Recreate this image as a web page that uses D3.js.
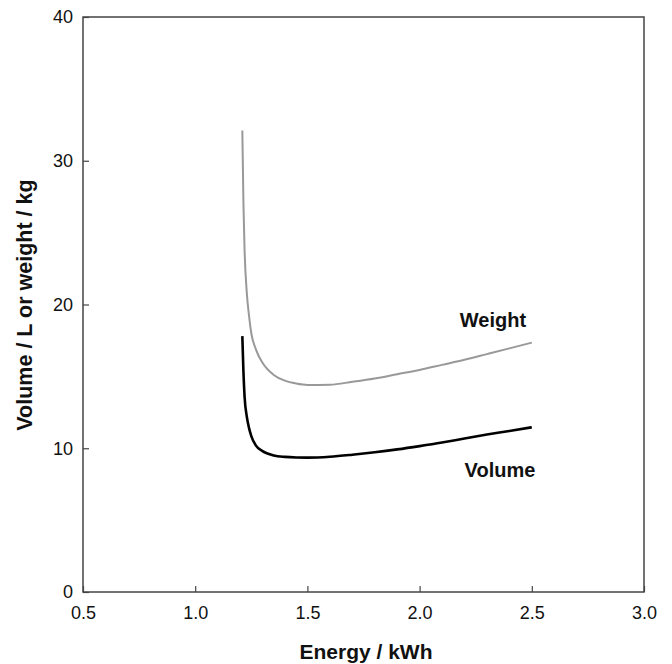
<!DOCTYPE html>
<html>
<head>
<meta charset="utf-8">
<script src="https://cdn.jsdelivr.net/npm/d3@7"></script>
<style>
  body { margin: 0; background: #fff; }
  svg { display: block; font-family: "Liberation Sans", Arial, sans-serif; }
</style>
</head>
<body>
<svg id="chart" width="672" height="664"></svg>
<script>
const energy = [1.21, 1.215, 1.22, 1.23, 1.24, 1.25, 1.27, 1.30, 1.35, 1.40, 1.45, 1.50, 1.60, 1.70, 1.80, 1.90, 2.00, 2.10, 2.20, 2.30, 2.40, 2.50];
const weight = [32.1, 27.0, 23.8, 20.8, 19.2, 18.0, 16.9, 15.95, 15.1, 14.7, 14.5, 14.4, 14.42, 14.62, 14.85, 15.15, 15.45, 15.8, 16.15, 16.55, 16.95, 17.35];
const volume = [17.8, 15.3, 13.6, 12.2, 11.4, 10.85, 10.2, 9.8, 9.5, 9.4, 9.36, 9.35, 9.41, 9.55, 9.72, 9.92, 10.15, 10.4, 10.68, 10.95, 11.2, 11.46];
const xTicks = [0.5, 1.0, 1.5, 2.0, 2.5, 3.0];
const yTicks = [0, 10, 20, 30, 40];

const svg = d3.select("#chart");
const x = d3.scaleLinear().domain([0.5, 3.0]).range([83, 644]);
const y = d3.scaleLinear().domain([0, 40]).range([592, 17]);

// frame
svg.append("rect").attr("x", 83).attr("y", 17).attr("width", 644 - 83).attr("height", 592 - 17)
  .attr("fill", "none").attr("stroke", "#444").attr("stroke-width", 1.5);

const xAxis = svg.append("g").attr("transform", "translate(0,592)")
  .call(d3.axisBottom(x).tickValues(xTicks).tickFormat(d3.format(".1f")).tickSizeInner(-6).tickSizeOuter(0).tickPadding(14));
xAxis.select(".domain").remove();
xAxis.selectAll("line").attr("stroke", "#444").attr("stroke-width", 1.2);
xAxis.selectAll("text").attr("font-size", 18).attr("fill", "#111").attr("font-family", "Liberation Sans, Arial, sans-serif");

const yAxis = svg.append("g").attr("transform", "translate(83,0)")
  .call(d3.axisLeft(y).tickValues(yTicks).tickFormat(d3.format("d")).tickSizeInner(-6).tickSizeOuter(0).tickPadding(10));
yAxis.select(".domain").remove();
yAxis.selectAll("line").attr("stroke", "#444").attr("stroke-width", 1.2);
yAxis.selectAll("text").attr("font-size", 18).attr("fill", "#111").attr("font-family", "Liberation Sans, Arial, sans-serif");

const line = d3.line().x(d => x(d[0])).y(d => y(d[1])).curve(d3.curveMonotoneX);
svg.append("path").datum(energy.map((e, i) => [e, weight[i]]))
  .attr("d", line).attr("fill", "none").attr("stroke", "#999").attr("stroke-width", 2);
svg.append("path").datum(energy.map((e, i) => [e, volume[i]]))
  .attr("d", line).attr("fill", "none").attr("stroke", "#000").attr("stroke-width", 2.6);

svg.append("text").attr("x", 493).attr("y", 327).attr("text-anchor", "middle")
  .attr("font-size", 20).attr("font-weight", "bold").attr("fill", "#111").text("Weight");
svg.append("text").attr("x", 500).attr("y", 477).attr("text-anchor", "middle")
  .attr("font-size", 20).attr("font-weight", "bold").attr("fill", "#111").text("Volume");

svg.append("text").attr("x", 366).attr("y", 659).attr("text-anchor", "middle")
  .attr("font-size", 21).attr("font-weight", "bold").attr("fill", "#111").text("Energy / kWh");
svg.append("text").attr("transform", "translate(32,305) rotate(-90)").attr("text-anchor", "middle")
  .attr("font-size", 21.5).attr("font-weight", "bold").attr("fill", "#111").text("Volume / L or weight / kg");
</script>
</body>
</html>
